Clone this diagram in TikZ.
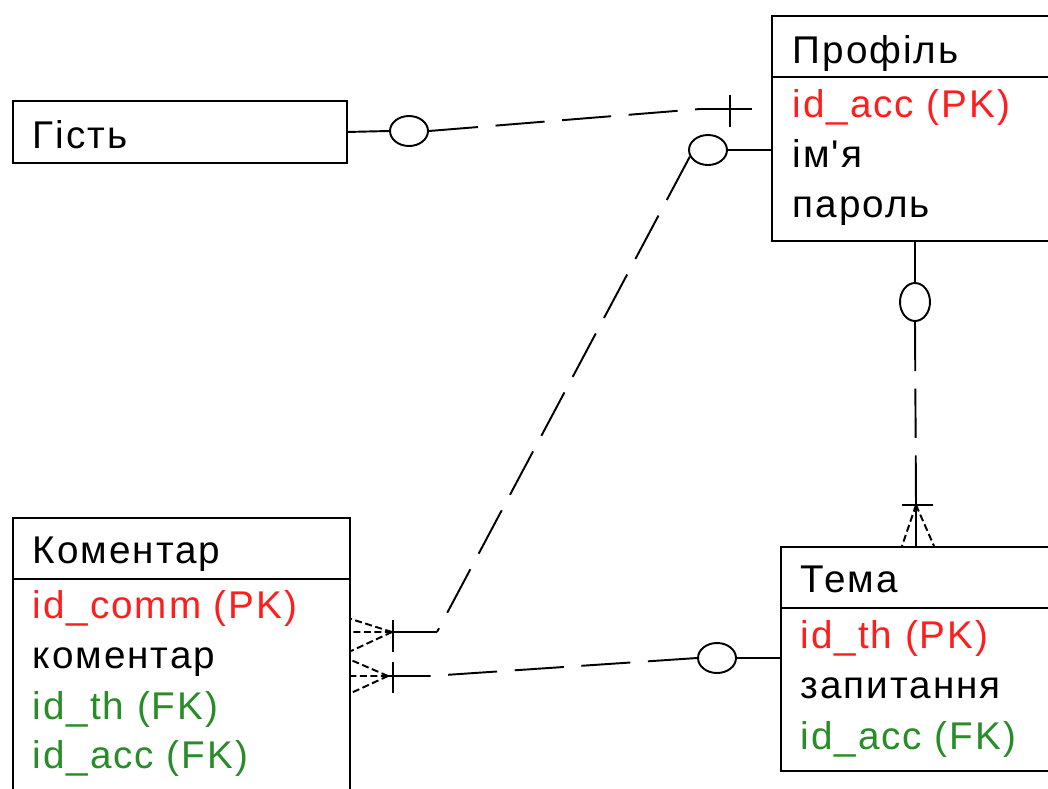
\documentclass[tikz,border=0pt]{standalone}
\usepackage{fontspec}
\setmainfont{Liberation Sans}[Ligatures=TeXOff, LetterSpace=5]
\usetikzlibrary{shapes.geometric}
\definecolor{pkred}{RGB}{255,30,30}
\definecolor{fkgreen}{RGB}{40,140,40}

\begin{document}
\begin{tikzpicture}[x=0.02cm, y=-0.02cm, line width=1.1pt,
        every node/.style={font=\fontsize{22}{26}\selectfont},
        ent/.style={draw, rectangle, anchor=north west, inner sep=0pt},
        fld/.style={anchor=base west, inner sep=0pt},
        pk/.style={fld, text=pkred},
        fk/.style={fld, text=fkgreen},
        hopt/.style={ellipse, draw, minimum width=0.76cm, minimum height=0.6cm, inner sep=0pt},
        vopt/.style={ellipse, draw, minimum width=0.6cm, minimum height=0.76cm, inner sep=0pt},
        dsh/.style={dash pattern=on 28pt off 10pt},
        foot/.style={dash pattern=on 4pt off 2pt}]
        \useasboundingbox (0,0) rectangle (1048,788);

        % Гість
        \node[ent, minimum width=6.68cm, minimum height=1.24cm] (gist) at (12,100) {};
        \node[fld] (g1) at (32,148) {Гість};

        % Профіль
        \node[ent, minimum width=5.9cm, minimum height=1.22cm] (profh) at (771,15) {};
        \node[ent, minimum width=5.9cm, minimum height=3.28cm] (prof) at (771,76) {};
        \node[fld] (p0) at (792,63) {Профіль};
        \node[pk] (p1) at (792,117) {id\_acc (PK)};
        \node[fld] (p2) at (792,167) {ім'я};
        \node[fld] (p3) at (792,217) {пароль};

        % Коментар
        \node[ent, minimum width=6.74cm, minimum height=1.22cm] (komh) at (12,517) {};
        \node[ent, minimum width=6.74cm, minimum height=4.6cm] (kom) at (12,578) {};
        \node[fld] (k0) at (32,563) {Коментар};
        \node[pk] (k1) at (32,618) {id\_comm (PK)};
        \node[fld] (k2) at (32,668) {коментар};
        \node[fk] (k3) at (32,719) {id\_th (FK)};
        \node[fk] (k4) at (32,768) {id\_acc (FK)};

        % Тема
        \node[ent, minimum width=5.8cm, minimum height=1.22cm] (temah) at (780,546) {};
        \node[ent, minimum width=5.8cm, minimum height=3.26cm] (tema) at (780,607) {};
        \node[fld] (t0) at (800,592) {Тема};
        \node[pk] (t1) at (800,648) {id\_th (PK)};
        \node[fld] (t2) at (800,698) {запитання};
        \node[fk] (t3) at (800,749) {id\_acc (FK)};

        % kružky
        \node[hopt] (o1) at (409,131) {};
        \node[hopt] (o2) at (708,150) {};
        \node[vopt] (o3) at (915,302) {};
        \node[hopt] (o4) at (717,658) {};

        \coordinate (c1) at (700,109);
        \coordinate (e1) at (752,109);
        \coordinate (c2) at (437,632);
        \coordinate (v2) at (392,632);
        \coordinate (v3) at (916,505);
        \coordinate (c4) at (430,676);
        \coordinate (v4) at (388,676);

        % Гість -- Профіль
        \draw (gist.east) -- (o1.west);
        \draw[dsh] (o1.east) -- (c1);
        \draw (c1) -- (e1);
        \draw (730,95) -- (730,127);

        % Профіль -- Коментар
        \draw (prof.west |- o2) -- (o2.east);
        \draw[dsh] (o2.200) -- (c2);
        \draw (c2) -- (v2);
        \draw (393,620) -- (393,652);
        \draw[foot] (v2) -- (351,619) (v2) -- (351,632) (v2) -- (351,651);

        % Профіль -- Тема
        \draw (o3 |- prof.south) -- (o3.north);
        \draw[dsh] (o3.south) -- (v3);
        \draw (902,505) -- (933,505);
        \draw[foot] (v3) -- (902,546) (v3) -- (934,546);
        \draw (v3) -- (916,546);

        % Тема -- Коментар
        \draw (tema.west |- o4) -- (o4.east);
        \draw[dsh] (o4.west) -- (c4);
        \draw (c4) -- (v4);
        \draw (393,662) -- (393,693);
        \draw[foot] (v4) -- (351,660) (v4) -- (351,676) (v4) -- (351,693);

    \end{tikzpicture}
\end{document}
